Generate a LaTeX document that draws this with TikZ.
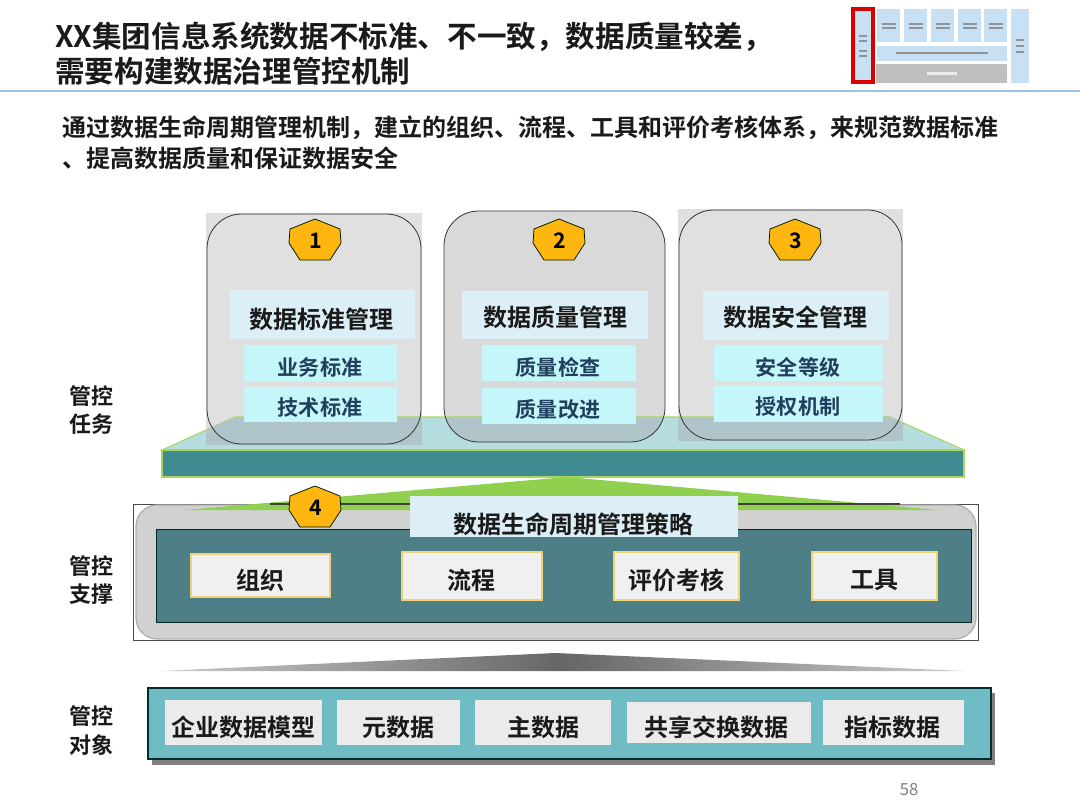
\documentclass[tikz,border=0pt]{standalone}
\usepackage{fontspec}
\setmainfont{Noto Sans CJK SC}[BoldFont={* Bold}]
\usetikzlibrary{calc}
\definecolor{hdr}{HTML}{DCEEF6}
\definecolor{sub}{HTML}{C5F7FA}
\definecolor{subtxt}{HTML}{1F3F5C}
\definecolor{cardg}{HTML}{E0E0E0}
\definecolor{cardd}{HTML}{D9D9D9}
\definecolor{overlap}{HTML}{AFC5C9}
\definecolor{platT}{HTML}{B5DDE0}
\definecolor{platF}{HTML}{3F8B92}
\definecolor{lime}{HTML}{8FD14F}
\definecolor{limeb}{HTML}{A9D65F}
\definecolor{teal2}{HTML}{4F7F86}
\definecolor{teal3}{HTML}{70BCC4}
\definecolor{gold}{HTML}{FFB60F}
\definecolor{goldb}{HTML}{F0D27A}
\definecolor{tink}{HTML}{1A1A1A}
\definecolor{thumb}{HTML}{C8E0F4}
\definecolor{rulec}{HTML}{9DC3E6}
\newcommand{\fs}[1]{\fontsize{#1}{#1}\selectfont}
\tikzset{
  tx/.style={inner sep=0pt,font=\bfseries\fs{18},text=tink,anchor=center},
  subtx/.style={inner sep=0pt,font=\bfseries\fs{15.8},text=subtxt,anchor=center},
  lefttx/.style={inner sep=0pt,font=\bfseries\fs{16.5},text=tink,align=center,anchor=center},
  hept/.style={draw=black!65!green!35!black,line width=.6pt,fill=gold},
  numtx/.style={inner sep=0pt,font=\bfseries\fs{16},text=black},
  hdrbox/.style={fill=hdr},
  subbox/.style={fill=sub},
  itembox/.style={fill=black!6,draw=goldb,line width=1pt},
  objbox/.style={fill=black!8},
  cardline/.style={draw=black!80,line width=.6pt},
  thumbbox/.style={fill=thumb},
  thumbtx/.style={fill=black!50,opacity=.8},
}
% name x1 y1 x2 y2 style text tx ty textstyle
\newcommand{\bx}[9]{%
  \path[#6] (#2,#3) rectangle (#4,#5);
  \node[#9] (#1) at (#7,#8) {\strut};}
\newcommand{\hep}[3]{%
  \path[hept] (#1,#2-21) -- (#1+25,#2-11) -- (#1+26,#2+3) -- (#1+15,#2+20) -- (#1-15,#2+20) -- (#1-26,#2+3) -- (#1-25,#2-11) -- cycle;
  \node[numtx] (hp#3) at (#1+1,#2+1) {#3};}
\newcommand{\thumbsq}[4]{\path[thumbbox] (#1,#2) rectangle (#3,#4);}
\newcommand{\blur}[3]{\path[thumbtx] (#1-#3,#2-1.2) rectangle (#1+#3,#2+1.2);}
\begin{document}
\begin{tikzpicture}[x=0.75pt,y=-0.75pt]
\useasboundingbox (0,0) rectangle (1080,810);
\fill[white] (0,0) rectangle (1080,810);
% title
\node[anchor=west,inner sep=0pt,font=\bfseries\fs{22.2},text=tink] (t1) at (55,37) {XX集团信息系统数据不标准、不一致，数据质量较差，};
\node[anchor=west,inner sep=0pt,font=\bfseries\fs{22.2},text=tink] (t2) at (55,71) {需要构建数据治理管控机制};
\draw[color=rulec,line width=.8pt] (0,91) -- (1080,91);
% thumbnail
\thumbsq{877}{9}{900}{42}\thumbsq{904}{9}{927}{42}\thumbsq{931}{9}{954}{42}\thumbsq{958}{9}{981}{42}\thumbsq{984}{9}{1007}{42}
\thumbsq{877}{46}{1007}{61}\thumbsq{1011}{9}{1029}{83}
\path[fill=black!25] (876,64) rectangle (1007,83);
\path[fill=thumb,draw=red!85!black,line width=2.4pt] (853,9) rectangle (873,82);
\foreach \cx in {888.5,915.5,942.5,969.5,995.5}{\blur{\cx}{24}{7}\blur{\cx}{28}{7}}
\blur{942}{53}{46}
\blur{863}{36}{4}\blur{863}{41}{4}\blur{863}{51}{4}\blur{863}{56}{4}
\blur{1020}{40}{4}\blur{1020}{46}{4}\blur{1020}{52}{4}
\path[fill=white,opacity=.7] (927,72) rectangle (957,75);
% subtitle
\node[anchor=west,inner sep=0pt,font=\bfseries\fs{18},text=tink] (s1) at (62,128) {通过数据生命周期管理机制，建立的组织、流程、工具和评价考核体系，来规范数据标准};
\node[anchor=west,inner sep=0pt,font=\bfseries\fs{18},text=tink] (s2) at (62,158) {、提高数据质量和保证数据安全};
% cards
\fill[cardg] (206,213) rectangle (422,445);
\fill[cardd,rounded corners=26pt] (444,211) rectangle (665,442);
\fill[cardg] (678,209) rectangle (903,441);
% platform top
\path[fill=platT,draw=limeb,line width=.8pt] (162,450) -- (235,417) -- (890,417) -- (964,450) -- cycle;
\begin{scope}
  \clip (162,450) -- (235,417) -- (890,417) -- (964,450) -- cycle;
  \fill[overlap] (206,213) rectangle (422,445);
  \fill[overlap,rounded corners=26pt] (444,211) rectangle (665,442);
  \fill[overlap] (678,209) rectangle (903,441);
\end{scope}
\path[cardline,rounded corners=26pt] (207,214) rectangle (421,444);
\path[cardline,rounded corners=26pt] (444,211) rectangle (665,442);
\path[cardline,rounded corners=26pt] (679,210) rectangle (902,440);
% platform front
\path[fill=platF,draw=limeb,line width=.8pt] (162,450) rectangle (964,477);
% card headers
\bx{h1}{230}{290}{415}{339}{hdrbox}{321}{319}{tx}
\node[tx] at (h1) {数据标准管理};
\bx{a1}{244}{345}{397}{381}{subbox}{320}{367}{subtx}
\node[subtx] at (a1) {业务标准};
\bx{a2}{244}{387}{397}{422}{subbox}{320}{407}{subtx}
\node[subtx] at (a2) {技术标准};
\bx{h2}{462}{291}{648}{339}{hdrbox}{555}{317}{tx}
\node[tx] at (h2) {数据质量管理};
\bx{b1}{482}{345}{636}{381}{subbox}{558}{367}{subtx}
\node[subtx] at (b1) {质量检查};
\bx{b2}{482}{388}{636}{424}{subbox}{558}{409}{subtx}
\node[subtx] at (b2) {质量改进};
\bx{h3}{703}{291}{889}{340}{hdrbox}{795}{317}{tx}
\node[tx] at (h3) {数据安全管理};
\bx{c1}{714}{345}{883}{381}{subbox}{798}{367}{subtx}
\node[subtx] at (c1) {安全等级};
\bx{c2}{714}{386}{883}{422}{subbox}{798}{407}{subtx}
\node[subtx] at (c2) {授权机制};
\hep{315}{240}{1}
\hep{559}{240}{2}
\hep{795}{240}{3}
% support layer
\path[draw=black!70,line width=.6pt,fill=white] (133,504) rectangle (978,640);
\path[fill=black!18,draw=black!30,line width=1pt,rounded corners=16pt] (136,505) rectangle (976,639);
\path[fill=lime] (567,477) -- (938,510) -- (185,510) -- cycle;
\draw[black!75,line width=.8pt] (270,504) -- (410,504);
\draw[black!75,line width=.8pt] (738,504) -- (900,504);
\path[fill=teal2,draw=black!70!teal,line width=.6pt] (156,529) rectangle (971,622);
\bx{h4}{410}{496}{738}{537}{hdrbox}{573}{524}{tx}
\node[tx] at (h4) {数据生命周期管理策略};
\hep{315}{507}{4}
\bx{d1}{191}{554}{330}{597}{itembox}{260}{580}{tx}
\node[tx] at (d1) {组织};
\bx{d2}{402}{552}{542}{600}{itembox}{471}{580}{tx}
\node[tx] at (d2) {流程};
\bx{d3}{614}{552}{739}{600}{itembox}{676}{580}{tx}
\node[tx] at (d3) {评价考核};
\bx{d4}{812}{552}{937}{600}{itembox}{874}{580}{tx}
\node[tx] at (d4) {工具};
% gray wedge
\begin{scope}
  \clip (555,653) -- (965,671) -- (160,671) -- cycle;
  \shade[left color=black!20,right color=black!20,middle color=black!60] (160,653) rectangle (965,671);
\end{scope}
% object layer
\fill[black!50] (152,693) rectangle (995,765);
\path[fill=teal3,draw=black!65!teal,line width=.8pt] (148,688) rectangle (991,759);
\bx{e1}{165}{700}{322}{745}{objbox}{243}{727}{tx}
\node[tx] at (e1) {企业数据模型};
\bx{e2}{337}{700}{460}{745}{objbox}{398}{727}{tx}
\node[tx] at (e2) {元数据};
\bx{e3}{475}{700}{611}{745}{objbox}{543}{727}{tx}
\node[tx] at (e3) {主数据};
\bx{e4}{627}{702}{811}{743}{objbox}{716}{727}{tx}
\node[tx] at (e4) {共享交换数据};
\bx{e5}{823}{700}{964}{745}{objbox}{892}{727}{tx}
\node[tx] at (e5) {指标数据};
% left labels
\node[lefttx] (l1a) at (91,396) {管控};
\node[lefttx] (l1b) at (91,424) {任务};
\node[lefttx] (l2a) at (91,566) {管控};
\node[lefttx] (l2b) at (91,594) {支撑};
\node[lefttx] (l3a) at (91,716) {管控};
\node[lefttx] (l3b) at (91,745) {对象};
\node[inner sep=0pt,font=\fs{12.5},text=black!50] (pg) at (909,790) {58};
\end{tikzpicture}
\end{document}
